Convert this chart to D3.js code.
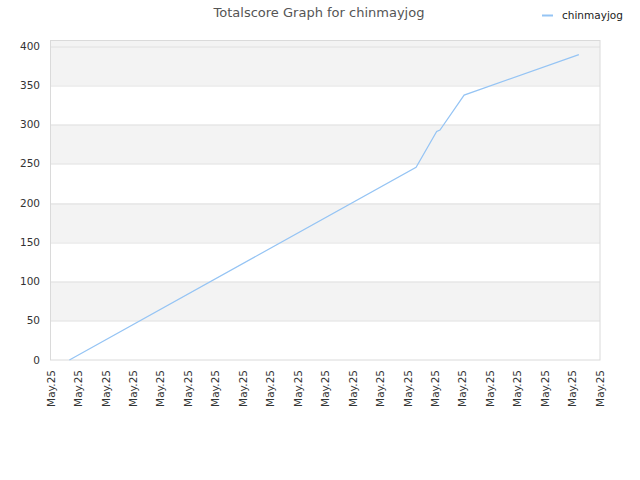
<!DOCTYPE html>
<html>
<head>
<meta charset="utf-8">
<script src="https://cdn.jsdelivr.net/npm/d3@7"></script>
<style>
  body { margin: 0; background: #fff; }
  text { font-family: "DejaVu Sans", sans-serif; }
</style>
</head>
<body>
<div class="chart"></div>
<script>
// values; x is in tick-interval units
var seriesName = "chinmayjog";
var pointX = [0.67, 13.30, 14.05, 14.17, 15.05, 19.23];
var pointY = [0, 245.5, 291, 293, 337.5, 389];
var tickLabels = d3.range(21).map(() => "May.25");
var yTicks = [0, 50, 100, 150, 200, 250, 300, 350, 400];

var margin = ({top: 40.5, right: 40, bottom: 120, left: 51});
var width = 600 - margin.left,
    height = 360 - margin.top;

var svg = d3.select(".chart").append("svg")
    .attr("width", 640)
    .attr("height", 480)
    .append("g")
    .attr("transform", "translate(" + margin.left + "," + margin.top + ")");

const xScale = d3.scaleLinear()
    .domain([0, tickLabels.length - 1])
    .range([0, width]);

// 400 sits about 5.5px under the top border
const yScale = d3.scaleLinear()
    .domain([0, 400])
    .range([height, height - 314]);

// alternating bands
var bands = [[350, 400], [250, 300], [150, 200], [50, 100]];
svg.selectAll(".band")
    .data(bands)
    .enter().append("rect")
    .attr("class", "band")
    .attr("x", 0)
    .attr("width", width)
    .attr("y", d => yScale(d[1]))
    .attr("height", d => yScale(d[0]) - yScale(d[1]))
    .attr("fill", "#f3f3f3");

svg.append("rect")
    .attr("x", 0)
    .attr("y", 0)
    .attr("width", width)
    .attr("height", yScale(400))
    .attr("fill", "#f3f3f3");

// horizontal grid
svg.selectAll(".grid")
    .data(yTicks.slice(1))
    .enter().append("line")
    .attr("class", "grid")
    .attr("x1", 0)
    .attr("x2", width)
    .attr("y1", d => Math.round(yScale(d)) + 0.5)
    .attr("y2", d => Math.round(yScale(d)) + 0.5)
    .attr("stroke", "#e0e0e0");

// frame
svg.append("rect")
    .attr("x", -0.5)
    .attr("y", 0)
    .attr("width", width + 0.5)
    .attr("height", height)
    .attr("fill", "none")
    .attr("stroke", "#dadada");

// y axis labels
svg.selectAll(".ylab")
    .data(yTicks)
    .enter().append("text")
    .attr("class", "ylab")
    .attr("x", -11)
    .attr("y", d => yScale(d))
    .attr("dy", "0.35em")
    .attr("text-anchor", "end")
    .attr("font-size", "10.5px")
    .attr("fill", "#333")
    .text(d => d);

// x axis labels
svg.selectAll(".xlab")
    .data(tickLabels)
    .enter().append("text")
    .attr("class", "xlab")
    .attr("transform", (d, i) => `translate(${xScale(i)}, ${height + 10}) rotate(-90)`)
    .attr("dy", "0.35em")
    .attr("text-anchor", "end")
    .attr("font-size", "10.5px")
    .attr("fill", "#333")
    .text(d => d);

// series line
const line = d3.line()
    .x(d => xScale(d[0]))
    .y(d => yScale(d[1]));

svg.append("path")
    .datum(pointX.map((x, i) => [x, pointY[i]]))
    .attr("d", line)
    .attr("fill", "none")
    .attr("stroke", "#95c4f4")
    .attr("stroke-width", 1.2);

// title
d3.select("svg").append("text")
    .attr("x", 319)
    .attr("y", 17)
    .attr("text-anchor", "middle")
    .attr("font-size", "13px")
    .attr("fill", "#555")
    .text("Totalscore Graph for " + seriesName);

// legend
var legend = d3.select("svg").append("g");
legend.append("line")
    .attr("x1", 542).attr("x2", 553)
    .attr("y1", 15.5).attr("y2", 15.5)
    .attr("stroke", "#95c4f4")
    .attr("stroke-width", 2);
legend.append("text")
    .attr("x", 562)
    .attr("y", 15)
    .attr("dy", "0.35em")
    .attr("font-size", "10.5px")
    .attr("fill", "#222")
    .text(seriesName);
</script>
</body>
</html>
